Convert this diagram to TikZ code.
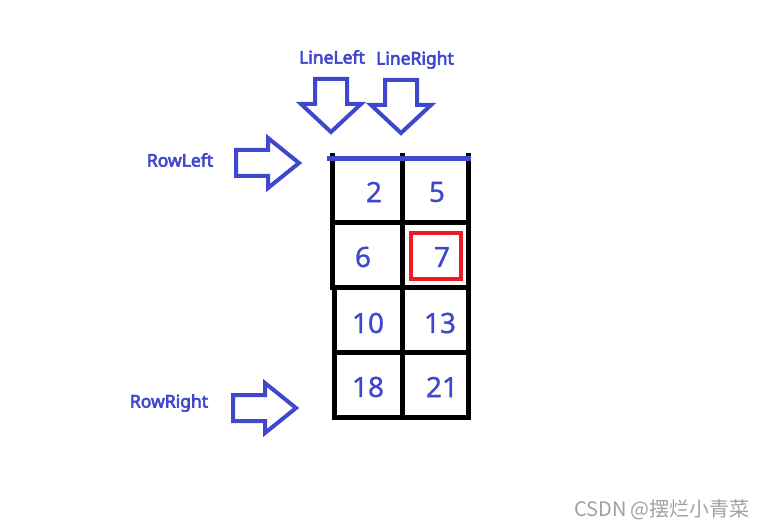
\documentclass[tikz,border=0pt]{standalone}
\usepackage{fontspec}
\setmainfont{Noto Sans}
\newfontfamily\tagfont{Noto Sans}[FakeBold=3.5]
\newfontfamily\numfont{Noto Sans}[FakeBold=1]
\newfontfamily\cjkfont{Noto Sans CJK SC}
\usepackage{xcolor}
\usetikzlibrary{positioning}
\usetikzlibrary{calc}
\definecolor{paintblue}{RGB}{63,72,204}
\definecolor{paintred}{RGB}{237,28,36}
\definecolor{markgray}{RGB}{160,160,160}

\begin{document}
\begin{tikzpicture}[x=1pt,y=-1pt]
	\tikzstyle{gridline}=[line width=5pt,black]
	\tikzstyle{blockarrow}=[line width=4pt,paintblue,line join=miter]
	\tikzstyle{num}=[text=paintblue,font=\numfont\fontsize{28}{28}\selectfont,inner sep=0pt]
	\tikzstyle{tag}=[text=paintblue,font=\tagfont\fontsize{17.5}{17.5}\selectfont,inner sep=0pt]

	\useasboundingbox (0,0) rectangle (758,529);

	% grid
	\draw[gridline] (332.5,153) -- (332.5,290);
	\draw[gridline] (334,288) -- (334,420);
	\draw[gridline] (402.5,153) -- (402.5,420);
	\draw[gridline] (468.5,153) -- (468.5,420);
	\draw[gridline] (330,223) -- (471,223);
	\draw[gridline] (330,288) -- (471,288);
	\draw[gridline] (334,352.5) -- (471,352.5);
	\draw[gridline] (331.5,417.5) -- (471,417.5);
	\draw[paintblue,line width=5pt] (327,159) -- (471,159);

	% values
	\node[num] (n2) at (374,192) {2};
	\node[num] (n5) at (437,192) {5};
	\node[num] (n6) at (363,257) {6};
	\node[num] (n7) at (442,257) {7};
	\node[num] (n10) at (368,323) {10};
	\node[num] (n13) at (440,323) {13};
	\node[num] (n18) at (368,387) {18};
	\node[num] (n21) at (442,387) {21};
	\draw[paintred,line width=4pt] (411,233) rectangle (461,279);

	% arrows
	\foreach \x/\y in {315/79, 385/80}
		\draw[blockarrow] (\x,\y) -- ++(32,0) -- ++(0,25) -- ++(14,0) -- ++(-30,28)
			-- ++(-30,-28) -- ++(14,0) -- cycle;
	\foreach \x/\y in {236/150, 233/395}
		\draw[blockarrow] (\x,\y) -- ++(32,0) -- ++(0,-12) -- ++(31,25)
			-- ++(-31,25) -- ++(0,-12) -- ++(-32,0) -- cycle;

	\node[tag] (lineleft) at (332,57) {LineLeft};
	\node[tag] (lineright) at (415,60) {LineRight};
	\node[tag] (rowleft) at (180,160) {RowLeft};
	\node[tag] (rowright) at (169,403) {RowRight};

	\node[text=markgray,font=\cjkfont\fontsize{20}{20}\selectfont,inner sep=0pt] (mark) at (662,510) {CSDN @摆烂小青菜};
\end{tikzpicture}
\end{document}
